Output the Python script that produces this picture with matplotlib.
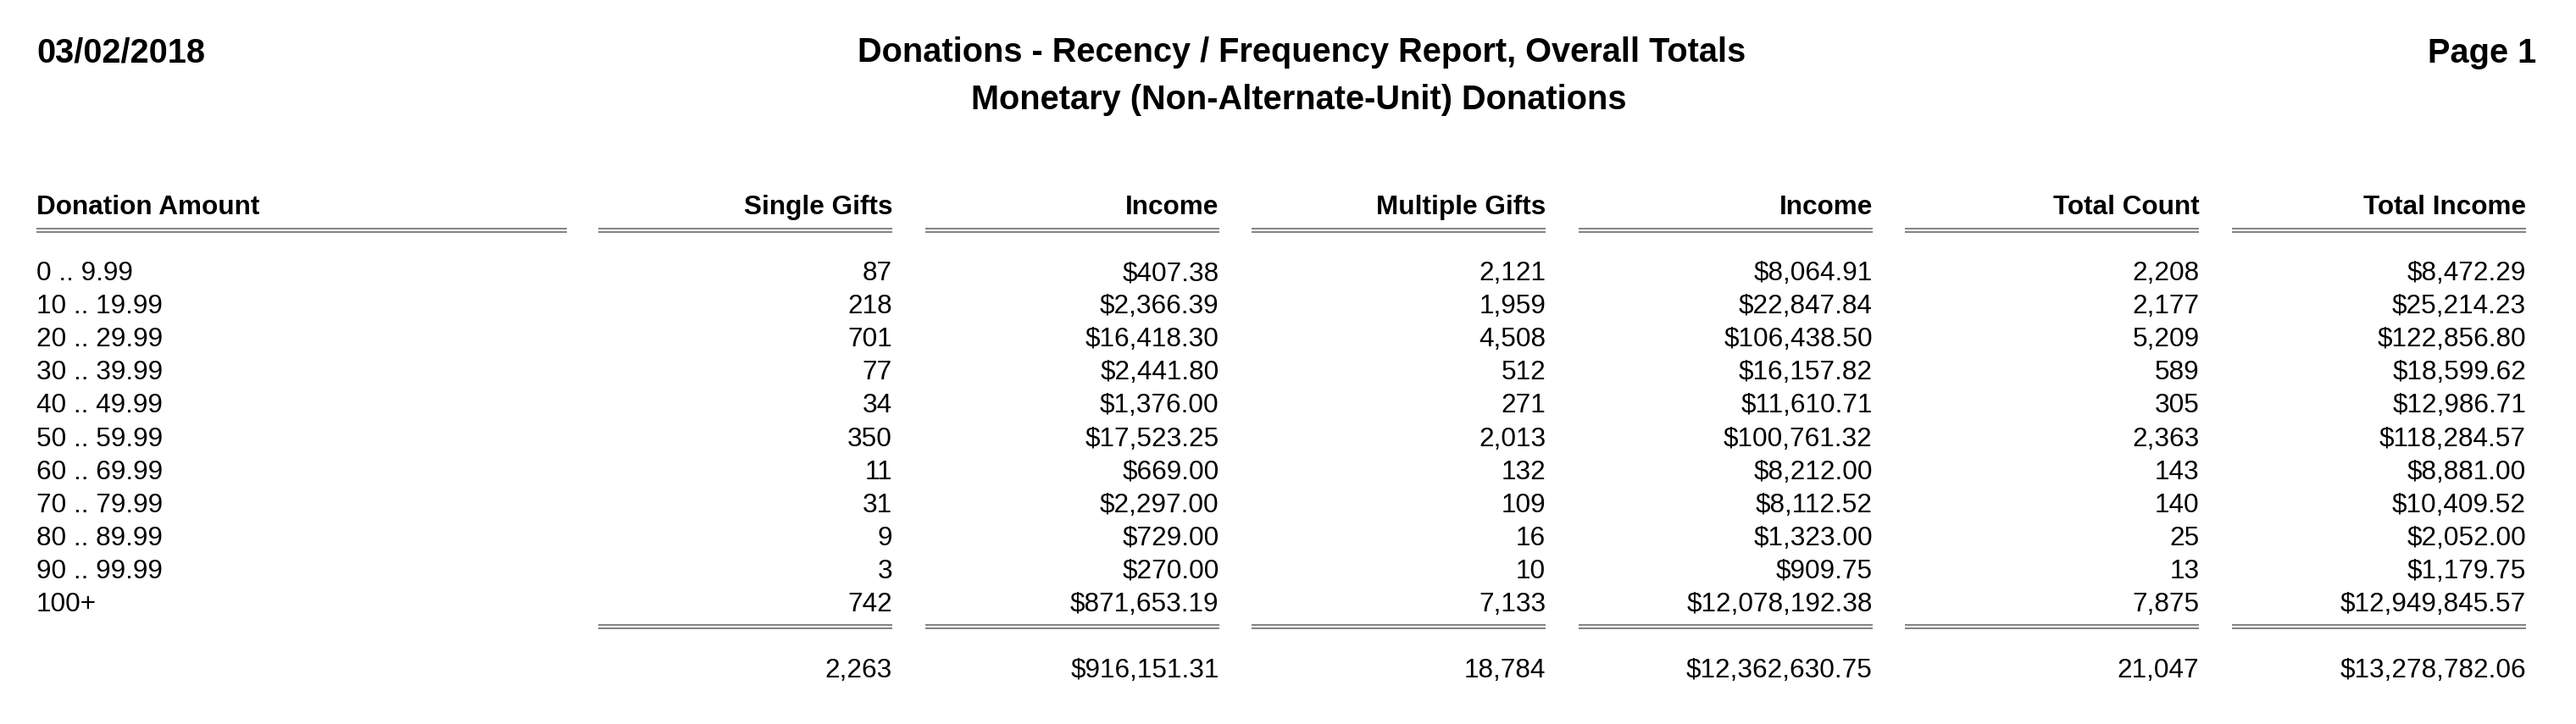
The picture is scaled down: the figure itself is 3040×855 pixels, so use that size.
import matplotlib
matplotlib.use('Agg')
import matplotlib.pyplot as plt

plt.rcParams['font.family'] = ['Liberation Sans', 'DejaVu Sans']

report_date = '03/02/2018'
title_lines = ['Donations - Recency / Frequency Report, Overall Totals',
               'Monetary (Non-Alternate-Unit) Donations']
page_label = 'Page 1'

headers = ['Donation Amount', 'Single Gifts', 'Income', 'Multiple Gifts',
           'Income', 'Total Count', 'Total Income']

amounts = ['0 .. 9.99', '10 .. 19.99', '20 .. 29.99', '30 .. 39.99', '40 .. 49.99',
           '50 .. 59.99', '60 .. 69.99', '70 .. 79.99', '80 .. 89.99', '90 .. 99.99', '100+']
single_gifts = [87, 218, 701, 77, 34, 350, 11, 31, 9, 3, 742]
single_income = [407.38, 2366.39, 16418.30, 2441.80, 1376.00, 17523.25, 669.00,
                 2297.00, 729.00, 270.00, 871653.19]
multiple_gifts = [2121, 1959, 4508, 512, 271, 2013, 132, 109, 16, 10, 7133]
multiple_income = [8064.91, 22847.84, 106438.50, 16157.82, 11610.71, 100761.32,
                   8212.00, 8112.52, 1323.00, 909.75, 12078192.38]
total_count = [2208, 2177, 5209, 589, 305, 2363, 143, 140, 25, 13, 7875]
total_income = [8472.29, 25214.23, 122856.80, 18599.62, 12986.71, 118284.57,
                8881.00, 10409.52, 2052.00, 1179.75, 12949845.57]
grand_totals = [2263, 916151.31, 18784, 12362630.75, 21047, 13278782.06]

def count_fmt(v):
    return f'{v:,}'

def money_fmt(v):
    return f'${v:,.2f}'

W, H = 3040, 855
fig = plt.figure(figsize=(W / 100, H / 100), dpi=100)
ax = fig.add_axes([0, 0, 1, 1])
ax.set_xlim(0, W)
ax.set_ylim(H, 0)
ax.axis('off')

title_fs = 28.6
table_fs = 22.7

# page header
ax.text(43, 74, report_date, fontsize=title_fs, fontweight='bold', va='baseline', ha='left')
ax.text(1536, 73, title_lines[0], fontsize=title_fs, fontweight='bold', va='baseline', ha='center')
ax.text(1533, 129, title_lines[1], fontsize=title_fs, fontweight='bold', va='baseline', ha='center')
ax.text(2993, 74, page_label, fontsize=title_fs, fontweight='bold', va='baseline', ha='right')

# column layout
first_left, first_right = 43, 669
col_rights = [1053 + i * 385.6 for i in range(6)]
col_width = 347
rule_color = '#858585'
lw = 1.45

header_y = 253
ax.text(first_left, header_y, headers[0], fontsize=table_fs, fontweight='bold', va='baseline', ha='left')
for r, h in zip(col_rights, headers[1:]):
    ax.text(r, header_y, h, fontsize=table_fs, fontweight='bold', va='baseline', ha='right')

def double_rule(x0, x1, y):
    ax.hlines([y, y + 4], x0, x1, colors=rule_color, linewidth=lw, capstyle='butt')

double_rule(first_left, first_right, 270)
for r in col_rights:
    double_rule(r - col_width, r, 270)

columns = [
    [count_fmt(v) for v in single_gifts],
    [money_fmt(v) for v in single_income],
    [count_fmt(v) for v in multiple_gifts],
    [money_fmt(v) for v in multiple_income],
    [count_fmt(v) for v in total_count],
    [money_fmt(v) for v in total_income],
]

row0, row_step = 331, 39.1
for i, label in enumerate(amounts):
    y = row0 + i * row_step
    ax.text(first_left, y, label, fontsize=table_fs, va='baseline', ha='left')
    for r, col in zip(col_rights, columns):
        ax.text(r, y, col[i], fontsize=table_fs, va='baseline', ha='right')

for r in col_rights:
    double_rule(r - col_width, r, 738)

total_fmts = [count_fmt, money_fmt, count_fmt, money_fmt, count_fmt, money_fmt]
for r, v, f in zip(col_rights, grand_totals, total_fmts):
    ax.text(r, 800, f(v), fontsize=table_fs, va='baseline', ha='right')

fig.savefig('out.png', dpi=100, facecolor='white')
